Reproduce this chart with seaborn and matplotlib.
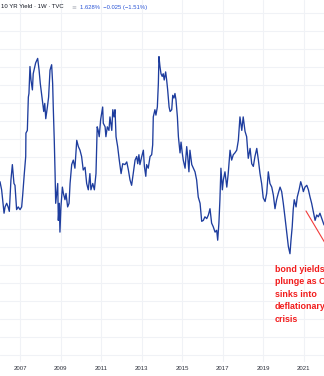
import matplotlib
matplotlib.use("Agg")
import matplotlib.pyplot as plt
import seaborn as sns
import pandas as pd
import numpy as np

# ---- data (decimal year, 10Y yield %) ----
years = [
    2006.00, 2006.08, 2006.20, 2006.25, 2006.33, 2006.40, 2006.46, 2006.54, 2006.61, 2006.69,
    2006.74, 2006.82, 2006.90, 2006.99, 2007.07, 2007.12, 2007.20, 2007.27, 2007.28, 2007.35,
    2007.40, 2007.43, 2007.48, 2007.53, 2007.60, 2007.64, 2007.76, 2007.86, 2007.93, 2007.99,
    2008.11, 2008.16, 2008.21, 2008.26, 2008.34, 2008.40, 2008.47, 2008.55, 2008.60, 2008.63,
    2008.68, 2008.72, 2008.75, 2008.85, 2008.88, 2008.93, 2008.96, 2009.01, 2009.08, 2009.13,
    2009.21, 2009.26, 2009.34, 2009.41, 2009.46, 2009.54, 2009.62, 2009.70, 2009.79, 2009.87,
    2009.95, 2010.03, 2010.11, 2010.20, 2010.28, 2010.36, 2010.44, 2010.49, 2010.58, 2010.66,
    2010.74, 2010.80, 2010.85, 2010.90, 2010.97, 2011.07, 2011.10, 2011.19, 2011.23, 2011.30,
    2011.38, 2011.43, 2011.52, 2011.57, 2011.63, 2011.68, 2011.73, 2011.81, 2011.89, 2011.98,
    2012.06, 2012.17, 2012.26, 2012.34, 2012.42, 2012.50, 2012.58, 2012.67, 2012.75, 2012.80,
    2012.86, 2012.91, 2013.00, 2013.08, 2013.13, 2013.20, 2013.24, 2013.32, 2013.41, 2013.49,
    2013.54, 2013.57, 2013.65, 2013.70, 2013.77, 2013.82, 2013.85, 2013.90, 2013.95, 2014.01,
    2014.06, 2014.11, 2014.18, 2014.23, 2014.28, 2014.35, 2014.40, 2014.48, 2014.53, 2014.59,
    2014.64, 2014.69, 2014.76, 2014.81, 2014.89, 2014.94, 2015.00, 2015.05, 2015.14, 2015.22,
    2015.27, 2015.33, 2015.38, 2015.47, 2015.55, 2015.63, 2015.71, 2015.79, 2015.88, 2015.96,
    2016.04, 2016.12, 2016.21, 2016.29, 2016.37, 2016.45, 2016.53, 2016.62, 2016.70, 2016.75,
    2016.81, 2016.86, 2016.91, 2016.98, 2017.03, 2017.11, 2017.20, 2017.27, 2017.36, 2017.44,
    2017.52, 2017.60, 2017.69, 2017.77, 2017.82, 2017.85, 2017.94, 2018.01, 2018.10, 2018.18,
    2018.26, 2018.35, 2018.43, 2018.51, 2018.59, 2018.68, 2018.76, 2018.84, 2018.92, 2019.00,
    2019.09, 2019.17, 2019.25, 2019.33, 2019.42, 2019.50, 2019.58, 2019.66, 2019.74, 2019.83,
    2019.91, 2019.99, 2020.07, 2020.16, 2020.24, 2020.32, 2020.37, 2020.43, 2020.48, 2020.53,
    2020.62, 2020.68, 2020.77, 2020.85, 2020.93, 2020.98, 2021.06, 2021.15, 2021.23, 2021.31,
    2021.39, 2021.47, 2021.56, 2021.64, 2021.72, 2021.80, 2021.89, 2022.00,
]
yields = [
    3.22, 3.13, 2.87, 2.94, 2.98, 2.94, 2.89, 3.24, 3.41, 3.20,
    3.18, 2.91, 2.94, 2.91, 2.94, 3.07, 3.31, 3.50, 3.76, 3.79,
    4.16, 4.20, 4.50, 4.35, 4.24, 4.42, 4.54, 4.59, 4.46, 4.31,
    4.09, 4.00, 4.09, 3.92, 4.05, 4.16, 4.46, 4.52, 4.31, 4.05,
    3.68, 3.31, 2.98, 3.20, 2.79, 2.98, 2.66, 2.94, 3.16, 3.09,
    3.02, 3.09, 2.94, 2.98, 3.20, 3.41, 3.46, 3.37, 3.68, 3.61,
    3.57, 3.50, 3.35, 3.38, 3.20, 3.13, 3.31, 3.13, 3.20, 3.13,
    3.31, 3.83, 3.79, 3.72, 3.91, 4.05, 3.87, 3.83, 3.72, 3.83,
    3.79, 3.94, 3.79, 4.02, 3.94, 4.02, 3.72, 3.61, 3.46, 3.31,
    3.42, 3.41, 3.44, 3.35, 3.24, 3.18, 3.31, 3.46, 3.50, 3.42,
    3.52, 3.41, 3.50, 3.57, 3.39, 3.28, 3.41, 3.37, 3.50, 3.52,
    3.63, 3.94, 4.02, 3.96, 4.05, 4.31, 4.61, 4.50, 4.42, 4.39,
    4.42, 4.35, 4.44, 4.35, 4.24, 4.05, 4.00, 4.02, 4.18, 4.15,
    4.20, 4.13, 3.94, 3.72, 3.54, 3.66, 3.54, 3.46, 3.37, 3.61,
    3.50, 3.33, 3.57, 3.41, 3.37, 3.33, 3.24, 3.05, 2.98, 2.78,
    2.79, 2.83, 2.81, 2.85, 2.92, 2.76, 2.72, 2.66, 2.68, 2.57,
    2.76, 3.02, 3.37, 3.13, 3.24, 3.33, 3.16, 3.31, 3.57, 3.46,
    3.52, 3.54, 3.57, 3.68, 3.85, 3.94, 3.79, 3.94, 3.78, 3.72,
    3.48, 3.59, 3.42, 3.39, 3.50, 3.59, 3.46, 3.31, 3.20, 3.04,
    3.00, 3.09, 3.33, 3.20, 3.16, 3.07, 2.92, 3.02, 3.09, 3.16,
    3.11, 2.98, 2.83, 2.65, 2.50, 2.42, 2.57, 2.72, 2.91, 3.02,
    2.94, 3.05, 3.13, 3.22, 3.16, 3.11, 3.16, 3.18, 3.13, 3.05,
    2.98, 2.89, 2.79, 2.85, 2.83, 2.87, 2.81, 2.74,
]
year_ticks = [2007, 2009, 2011, 2013, 2015, 2017, 2019, 2021]
year_labels = ["2007", "2009", "2011", "2013", "2015", "2017", "2019", "2021"]
grid_levels = [round(5.1 - 0.2 * i, 2) for i in range(20)]

trend_years = [2021.11, 2022.10]
trend_yields = [2.895, 2.52]

title_text = "10 YR Yield · 1W · TVC"
last_value = "1.628%"
change_text = "\u22120.025 (\u22121.51%)"
note_text = "bond yields\nplunge as China\nsinks into\ndeflationary\ncrisis"

df = pd.DataFrame({"year": years, "yield": yields})

# ---- figure ----
sns.set_theme(style="white")
plt.rcParams["font.family"] = ["Liberation Sans", "DejaVu Sans"]

W, H = 324, 376
fig = plt.figure(figsize=(W / 100, H / 100), dpi=100)
ax = fig.add_axes([0, 14 / H, 1, 362 / H])

for lv in grid_levels:
    ax.axhline(lv, color="#f0f2f6", lw=0.8, zorder=0)
for yt in year_ticks:
    ax.axvline(yt, color="#f0f2f6", lw=0.8, zorder=0)

sns.lineplot(data=df, x="year", y="yield", ax=ax, color="#1e3d9e",
             linewidth=0.95, estimator=None, sort=False, zorder=3)

ax.plot(trend_years, trend_yields, color="#f23a3a", lw=0.8, zorder=4)

ax.set_xlim(2006.0, 2022.0)
ax.set_ylim(5.239 - 362 / 90, 5.239)
ax.set_xticks(year_ticks)
ax.set_xticklabels(year_labels, fontsize=4.3, color="#2a2e39")
ax.set_yticks([])
ax.tick_params(axis="x", length=0, pad=3)
ax.set_xlabel("")
ax.set_ylabel("")
for s in ax.spines.values():
    s.set_visible(False)

ax.text(2019.58, 2.30, note_text, color="#f21c1c", fontsize=6.4,
        fontweight="bold", va="top", ha="left", linespacing=1.5,
        clip_on=False, zorder=5)

# header
fig.text(1 / W, 1 - 7 / H, title_text, fontsize=4.3, color="#131722",
         va="center", ha="left")
fig.text(71 / W, 1 - 7 / H, "\u2261", fontsize=4.2, color="#b2b5be",
         va="center", ha="left", family="DejaVu Sans")
fig.text(80 / W, 1 - 7 / H, last_value + "  " + change_text, fontsize=4.2,
         color="#2b55d6", va="center", ha="left")

fig.savefig("out.png", dpi=100)
